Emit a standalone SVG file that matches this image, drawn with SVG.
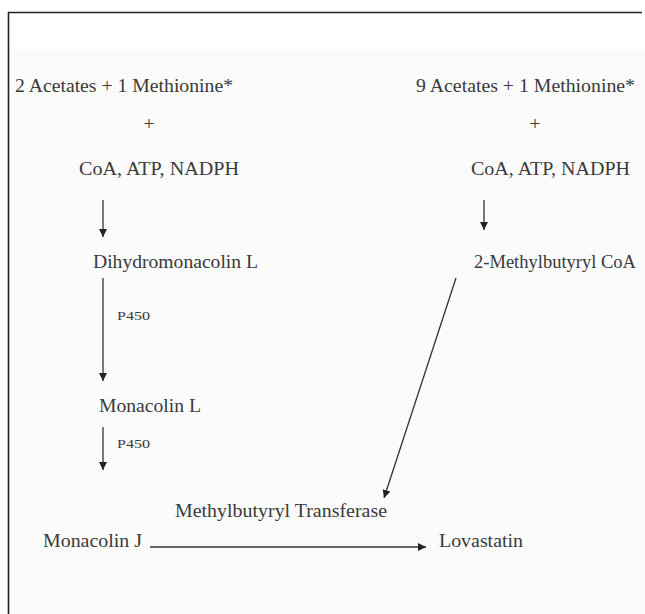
<svg xmlns="http://www.w3.org/2000/svg" width="645" height="614" viewBox="0 0 645 614">
<defs>
<style>
.t{font-family:"Liberation Serif","Times New Roman",serif;font-size:19.5px;fill:#3a3a3a}
.s{font-family:"Liberation Serif","Times New Roman",serif;font-size:12px;fill:#3a3a3a}
.c{stroke:#333;stroke-width:1.3;fill:none}
</style>
<marker id="ah" viewBox="0 0 10 10" refX="10" refY="5" markerWidth="8" markerHeight="8" markerUnits="userSpaceOnUse" orient="auto"><path d="M0,0L10,5L0,10z" fill="#222"/></marker>
</defs>
<rect x="0" y="0" width="645" height="614" fill="#ffffff"/>
<rect x="8" y="50" width="637" height="564" fill="#fbfbfb"/>
<path d="M8.5,614V12.5H642" stroke="#222" stroke-width="1.6" fill="none"/>
<g id="n_acet2"><text class="t" x="15" y="92" textLength="218" lengthAdjust="spacingAndGlyphs">2 Acetates + 1 Methionine*</text></g>
<g id="n_plus1"><text class="t" x="149" y="130" text-anchor="middle">+</text></g>
<g id="n_coa1"><text class="t" x="79" y="175" textLength="160" lengthAdjust="spacingAndGlyphs">CoA, ATP, NADPH</text></g>
<g id="n_dihydro"><text class="t" x="93" y="268" textLength="165" lengthAdjust="spacingAndGlyphs">Dihydromonacolin L</text></g>
<g id="n_monL"><text class="t" x="99" y="412" textLength="102" lengthAdjust="spacingAndGlyphs">Monacolin L</text></g>
<g id="n_monJ"><text class="t" x="43" y="547" textLength="99" lengthAdjust="spacingAndGlyphs">Monacolin J</text></g>
<g id="n_acet9"><text class="t" x="416" y="92" textLength="219" lengthAdjust="spacingAndGlyphs">9 Acetates + 1 Methionine*</text></g>
<g id="n_plus2"><text class="t" x="535" y="130" text-anchor="middle">+</text></g>
<g id="n_coa2"><text class="t" x="471" y="175" textLength="159" lengthAdjust="spacingAndGlyphs">CoA, ATP, NADPH</text></g>
<g id="n_mbcoa"><text class="t" x="474" y="268" textLength="162" lengthAdjust="spacingAndGlyphs">2-Methylbutyryl CoA</text></g>
<g id="n_trans"><text class="t" x="175" y="517" textLength="212" lengthAdjust="spacingAndGlyphs">Methylbutyryl Transferase</text></g>
<g id="n_lova"><text class="t" x="439" y="547" textLength="84" lengthAdjust="spacingAndGlyphs">Lovastatin</text></g>
<g id="connectors">
<line class="c" x1="103" y1="200" x2="103" y2="237" marker-end="url(#ah)"/>
<line class="c" x1="103" y1="278" x2="103" y2="381" marker-end="url(#ah)"/>
<text class="s" x="117" y="320" textLength="33" lengthAdjust="spacingAndGlyphs">P450</text>
<line class="c" x1="103" y1="427" x2="103" y2="470" marker-end="url(#ah)"/>
<text class="s" x="117" y="448" textLength="33" lengthAdjust="spacingAndGlyphs">P450</text>
<line class="c" x1="484" y1="200" x2="484" y2="230" marker-end="url(#ah)"/>
<line class="c" x1="456" y1="278" x2="384" y2="498" marker-end="url(#ah)"/>
<line class="c" x1="150" y1="547" x2="426" y2="547" marker-end="url(#ah)"/>
</g>
</svg>
